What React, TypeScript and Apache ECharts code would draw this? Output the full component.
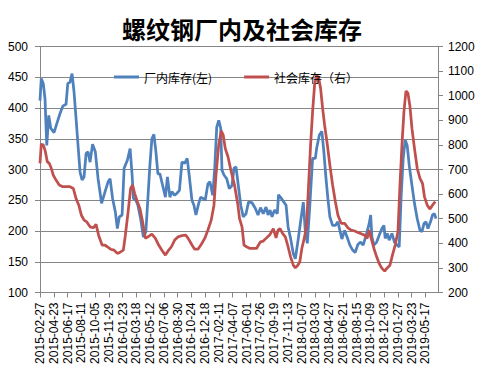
import React, { useEffect, useRef } from "react";
import * as echarts from "echarts";

const titleText = "螺纹钢厂内及社会库存";
const factoryName = "厂内库存(左)";
const socialName = "社会库存（右）";
const startDate = "2015-02-27";
const labelStepDays = 55;
const lastLabelDay = 1540;
const axisEndDay = 1590;

// days since startDate, factory inventory (left axis)
const factoryDays = [
  0, 5, 13, 20, 27, 35, 43, 56, 69, 80,
  91, 104, 111, 120, 128, 136, 144, 152, 160, 168,
  176, 184, 192, 200, 210, 221, 232, 246, 260, 272,
  280, 290, 301, 309, 317, 328, 336, 349, 360, 368,
  373, 383, 391, 402, 413, 423, 431, 439, 447, 455,
  463, 471, 479, 490, 501, 509, 519, 527, 538, 546,
  557, 567, 578, 588, 596, 607, 615, 623, 634, 642,
  652, 660, 671, 679, 690, 698, 706, 714, 722, 727,
  735, 746, 756, 767, 775, 783, 791, 802, 812, 823,
  833, 847, 860, 871, 881, 892, 903, 911, 919, 927,
  937, 948, 953, 964, 983, 991, 1001, 1012, 1020, 1030,
  1041, 1052, 1060, 1068, 1078, 1089, 1100, 1105, 1116, 1126,
  1134, 1142, 1150, 1158, 1169, 1180, 1190, 1198, 1206, 1217,
  1227, 1238, 1249, 1259, 1270, 1281, 1291, 1299, 1307, 1315,
  1321, 1326, 1334, 1345, 1355, 1366, 1374, 1379, 1387, 1395,
  1406, 1416, 1427, 1435, 1443, 1451, 1459, 1467, 1475, 1486,
  1496, 1507, 1518, 1526, 1534, 1542, 1550, 1560, 1568, 1576,
  1582,
];
const factoryStock = [
  412, 448, 440, 415, 339, 388, 367, 360, 377, 391,
  403, 406, 440, 442, 456, 426, 383, 339, 296, 283,
  288, 326, 329, 312, 341, 329, 285, 245, 264, 280,
  285, 253, 231, 204, 223, 226, 302, 315, 334, 291,
  253, 250, 242, 220, 190, 199, 253, 307, 350, 357,
  329, 293, 293, 274, 255, 288, 255, 264, 258, 261,
  266, 312, 310, 318, 291, 250, 242, 226, 245, 255,
  253, 250, 277, 280, 258, 302, 369, 380, 367, 299,
  291, 285, 269, 274, 302, 304, 278, 242, 223, 228,
  247, 246, 237, 226, 238, 228, 239, 226, 234, 223,
  234, 228, 259, 253, 242, 207, 188, 163, 155, 182,
  215, 247, 199, 180, 242, 318, 318, 334, 356, 362,
  329, 288, 253, 223, 209, 209, 215, 201, 187, 201,
  190, 177, 169, 165, 178, 182, 177, 188, 199, 212,
  226, 190, 177, 182, 193, 204, 209, 188, 196, 185,
  196, 182, 177, 174, 258, 318, 348, 339, 307, 274,
  245, 220, 201, 199, 212, 215, 204, 215, 226, 228,
  220,
];

// days since startDate, social inventory (right axis)
const socialDays = [
  0, 5, 13, 21, 29, 37, 45, 53, 64, 77,
  91, 107, 120, 133, 144, 155, 165, 176, 187, 200,
  213, 224, 234, 248, 258, 269, 282, 296, 309, 322,
  333, 341, 352, 362, 370, 378, 389, 399, 410, 421,
  431, 447, 461, 474, 487, 501, 511, 525, 538, 551,
  567, 583, 596, 607, 618, 631, 644, 658, 671, 684,
  695, 703, 714, 724, 732, 740, 751, 764, 777, 790,
  797, 807, 815, 825, 839, 852, 865, 873, 881, 892,
  905, 919, 932, 943, 951, 959, 969, 980, 991, 1001,
  1012, 1020, 1030, 1038, 1046, 1057, 1065, 1073, 1081, 1089,
  1097, 1105, 1113, 1121, 1129, 1137, 1148, 1158, 1169, 1180,
  1190, 1203, 1217, 1230, 1243, 1257, 1270, 1283, 1297, 1307,
  1315, 1323, 1334, 1345, 1355, 1366, 1377, 1387, 1398, 1408,
  1419, 1430, 1438, 1446, 1454, 1462, 1470, 1478, 1486, 1496,
  1507, 1518, 1528, 1536, 1547, 1558, 1568, 1579,
];
const socialStock = [
  725, 802, 800, 775, 732, 725, 705, 677, 657, 637,
  630, 630, 630, 623, 582, 555, 515, 494, 487, 467,
  463, 477, 433, 393, 393, 386, 376, 372, 359, 365,
  372, 433, 528, 623, 637, 603, 569, 542, 487, 420,
  426, 437, 420, 393, 372, 352, 368, 386, 413, 426,
  431, 433, 413, 393, 376, 376, 395, 420, 454, 494,
  555, 677, 800, 857, 840, 786, 752, 691, 637, 560,
  501, 467, 393, 386, 379, 379, 379, 393, 406, 409,
  422, 436, 460, 422, 454, 460, 440, 426, 386, 345,
  311, 300, 311, 325, 379, 426, 474, 637, 800, 935,
  1044, 1084, 1074, 1030, 949, 881, 800, 718, 637, 569,
  515, 481, 481, 463, 454, 450, 444, 439, 433, 420,
  454, 420, 379, 345, 318, 298, 287, 300, 311, 352,
  393, 447, 637, 800, 935, 1019, 1010, 956, 867, 786,
  705, 664, 644, 589, 555, 539, 555, 569,
];

const leftTicks = { min: 100, max: 500, interval: 50 };
const rightTicks = { min: 200, max: 1200, interval: 100 };

const numFont = "'Liberation Sans', Arial, 'Noto Sans CJK SC', sans-serif";
const cjkFont = "'Noto Sans CJK SC', 'Liberation Sans', sans-serif";
const axisGray = "#868686";

function dayToLabel(v: number): string {
  if (v > lastLabelDay || v % labelStepDays !== 0) return "";
  const [y, m, d] = startDate.split("-").map(Number);
  const t = new Date(Date.UTC(y, m - 1, d) + v * 86400000);
  return t.toISOString().slice(0, 10);
}

export default function App() {
  const ref = useRef<HTMLDivElement>(null);
  useEffect(() => {
    if (!ref.current) return;
    const chart = echarts.init(ref.current, undefined, { renderer: "svg" });
    const factoryData = factoryDays.map((d, i) => [d, factoryStock[i]]);
    const socialData = socialDays.map((d, i) => [d, socialStock[i]]);
    chart.setOption({
      animation: false,
      backgroundColor: "#ffffff",
      title: {
        text: titleText,
        left: "center",
        top: 11,
        textStyle: { fontSize: 24, fontWeight: "bold", fontFamily: cjkFont, color: "#000" },
      },
      legend: {
        left: 109,
        top: 66,
        icon: "rect",
        itemWidth: 25,
        itemHeight: 3,
        itemGap: 32,
        textStyle: { fontSize: 12, fontFamily: cjkFont, color: "#000" },
        data: [factoryName, socialName],
      },
      grid: { left: 40, top: 46.5, width: 398, height: 246, containLabel: false },
      xAxis: {
        type: "value",
        min: 0,
        max: axisEndDay,
        interval: labelStepDays,
        splitLine: { show: false },
        axisLine: { show: true, onZero: false, lineStyle: { color: axisGray, width: 1 } },
        axisTick: { show: true, length: 5, lineStyle: { color: axisGray } },
        axisLabel: {
          rotate: 90,
          margin: 10,
          fontSize: 12,
          fontFamily: numFont,
          color: "#000",
          showMaxLabel: false,
          formatter: (v: number) => dayToLabel(v),
        },
      },
      yAxis: [
        {
          type: "value",
          min: leftTicks.min,
          max: leftTicks.max,
          interval: leftTicks.interval,
          position: "left",
          axisLine: { show: true, lineStyle: { color: axisGray } },
          axisTick: { show: true, length: 5, lineStyle: { color: axisGray } },
          splitLine: { show: true, lineStyle: { color: axisGray, width: 1 } },
          axisLabel: {
            fontSize: 12,
            fontFamily: numFont,
            color: "#000",
            margin: 12,
            formatter: (v: number) => String(v),
          },
        },
        {
          type: "value",
          min: rightTicks.min,
          max: rightTicks.max,
          interval: rightTicks.interval,
          position: "right",
          axisLine: { show: true, lineStyle: { color: axisGray } },
          axisTick: { show: true, length: 5, lineStyle: { color: axisGray } },
          splitLine: { show: false },
          axisLabel: {
            fontSize: 12,
            fontFamily: numFont,
            color: "#000",
            margin: 10,
            formatter: (v: number) => String(v),
          },
        },
      ],
      series: [
        {
          name: factoryName,
          type: "line",
          yAxisIndex: 0,
          data: factoryData,
          symbol: "none",
          lineStyle: { color: "#4F81BD", width: 2.75 },
          itemStyle: { color: "#4F81BD" },
        },
        {
          name: socialName,
          type: "line",
          yAxisIndex: 1,
          data: socialData,
          symbol: "none",
          lineStyle: { color: "#C0504D", width: 2.75 },
          itemStyle: { color: "#C0504D" },
        },
      ],
    });
    return () => chart.dispose();
  }, []);
  return (
    <div
      ref={ref}
      style={{ position: "absolute", left: 0, top: 0, width: 484, height: 374 }}
    />
  );
}
